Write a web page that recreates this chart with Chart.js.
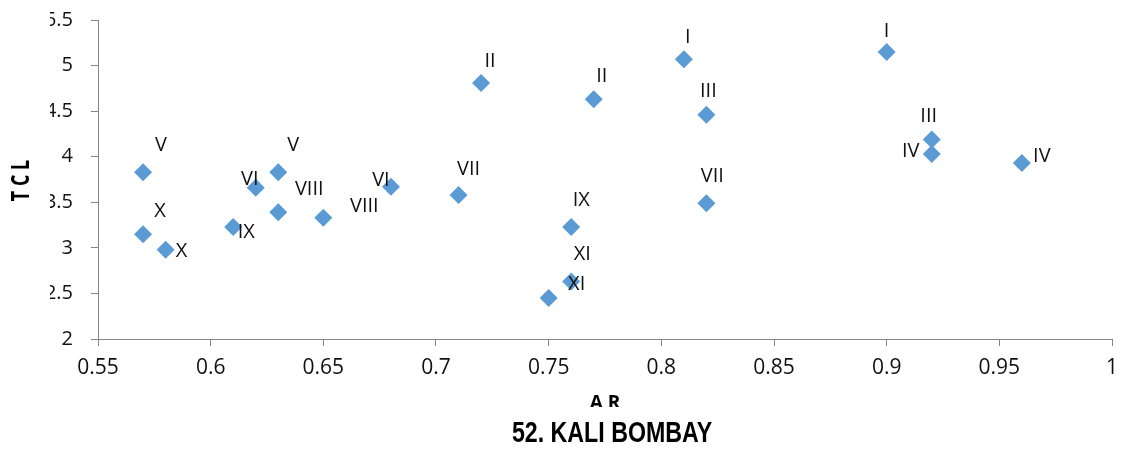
<!DOCTYPE html>
<html>
<head>
<meta charset="utf-8">
<script src="https://cdn.jsdelivr.net/npm/chart.js@4.4.1/dist/chart.umd.min.js"></script>
<style>
  body { margin: 0; background: #fff; }
  #wrap { width: 1128px; height: 452px; }
</style>
</head>
<body>
<div id="wrap"><canvas id="myChart" width="1128" height="452"></canvas></div>
<script>
// A R (x) and T C L (y) values
const arValues  = [0.57, 0.57, 0.58, 0.61, 0.62, 0.63, 0.63, 0.65, 0.68, 0.71, 0.72, 0.75, 0.76, 0.76, 0.77, 0.81, 0.82, 0.82, 0.90, 0.92, 0.92, 0.96];
const tclValues = [3.83, 3.15, 2.98, 3.23, 3.66, 3.83, 3.39, 3.33, 3.67, 3.58, 4.81, 2.45, 3.23, 2.63, 4.63, 5.07, 4.46, 3.49, 5.15, 4.19, 4.03, 3.93];
const pointNames = ['V', 'X', 'X', 'IX', 'VI', 'V', 'VIII', 'VIII', 'VI', 'VII', 'II', 'XI', 'IX', 'XI', 'II', 'I', 'III', 'VII', 'I', 'III', 'IV', 'IV'];

const xMin = 0.55, xMax = 1, xStep = 0.05;
const yMin = 2, yMax = 5.5, yStep = 0.5;

const chartTitle = '52. KALI BOMBAY';
const xTitle = 'A R';
const yTitle = 'T C L';

// where each roman numeral sits relative to its marker (dx, dy)
const labelOffsets = [
    [18, -27], [17, -23], [16, 2], [13, 5], [-6, -8], [15, -27], [31, -23], [41, -11],
    [-10, -6], [10, -26], [9, -22], [28, -14], [10, -27], [11, -27], [8, -23], [4, -22],
    [2, -23], [6, -27], [0, -21], [-3, -23], [-21, -3], [20, -7]
];

const axisGray = '#868686';

// roman numeral labels next to the diamonds
const pointLabelPlugin = {
    id: 'pointLabels',
    afterDatasetsDraw(chart) {
        const ctx = chart.ctx;
        const meta = chart.getDatasetMeta(0);
        ctx.save();
        ctx.font = '20px "Open Sans"';
        ctx.fillStyle = '#111';
        ctx.textAlign = 'center';
        ctx.textBaseline = 'middle';
        meta.data.forEach((pt, i) => {
            const off = labelOffsets[i];
            ctx.fillText(pointNames[i], pt.x + off[0], pt.y + off[1]);
        });
        ctx.restore();
    }
};

// the original image is cropped a bit: y tick labels cut on the left, x title cut below
// titles are drawn here too, squeezed like the original narrow fonts
const cropPlugin = {
    id: 'cropAndTitle',
    afterDraw(chart) {
        const ctx = chart.ctx;
        const area = chart.chartArea;
        ctx.save();
        ctx.fillStyle = '#fff';
        ctx.fillRect(34, 0, 16, 360);

        ctx.fillStyle = '#000';
        ctx.textAlign = 'center';
        ctx.textBaseline = 'middle';

        // y title, rotated
        ctx.save();
        ctx.translate(22, (area.top + area.bottom) / 2 + 1);
        ctx.rotate(-Math.PI / 2);
        ctx.scale(0.72, 1);
        ctx.font = 'bold 25px "Open Sans"';
        ctx.fillText(yTitle, 0, 0);
        ctx.restore();

        // x title, only its upper part shows
        ctx.save();
        ctx.beginPath();
        ctx.rect(0, 380, 1128, 27);
        ctx.clip();
        ctx.font = 'bold 19px "Open Sans"';
        ctx.fillText(xTitle, (area.left + area.right) / 2, 404);
        ctx.restore();

        // chart title
        ctx.save();
        ctx.translate(612, 434);
        ctx.scale(0.8, 1);
        ctx.font = 'bold 29px "Liberation Sans"';
        ctx.fillText(chartTitle, 0, 0);
        ctx.restore();

        ctx.restore();
    }
};

function fmt(v) {
    return String(Number(v.toFixed(2)));
}

const ctx = document.getElementById('myChart').getContext('2d');
const myChart = new Chart(ctx, {
    type: 'scatter',
    data: {
        datasets: [{
            label: 'TCL',
            data: arValues.map((x, i) => ({ x: x, y: tclValues[i] })),
            pointStyle: 'rectRot',
            pointRadius: 9,
            pointHoverRadius: 9,
            backgroundColor: '#5B9BD5',
            borderColor: '#5B9BD5',
            borderWidth: 0
        }]
    },
    options: {
        responsive: false,
        animation: false,
        events: [],
        layout: { padding: { left: 0, right: 16, top: 20, bottom: 0 } },
        plugins: {
            legend: { display: false },
            tooltip: { enabled: false }
        },
        scales: {
            x: {
                type: 'linear',
                min: xMin,
                max: xMax,
                afterFit(scale) {
                    scale.height = 113;
                    scale.paddingLeft = 0;
                    scale.paddingRight = 0;
                },
                afterBuildTicks(scale) {
                    const t = [];
                    for (let v = xMin; v <= xMax + 1e-9; v += xStep) t.push({ value: Number(v.toFixed(2)) });
                    scale.ticks = t;
                },
                grid: { drawOnChartArea: false, drawTicks: true, tickLength: 7, color: axisGray },
                border: { display: true, color: axisGray, width: 1 },
                ticks: { color: '#111', font: { family: 'Open Sans', size: 21 }, padding: 9, callback: fmt }
            },
            y: {
                type: 'linear',
                min: yMin,
                max: yMax,
                afterFit(scale) {
                    scale.width = 98;
                    scale.paddingTop = 0;
                    scale.paddingBottom = 0;
                },
                afterBuildTicks(scale) {
                    const t = [];
                    for (let v = yMin; v <= yMax + 1e-9; v += yStep) t.push({ value: Number(v.toFixed(2)) });
                    scale.ticks = t;
                },
                grid: { drawOnChartArea: false, drawTicks: true, tickLength: 7, color: axisGray },
                border: { display: true, color: axisGray, width: 1 },
                ticks: { color: '#111', font: { family: 'Open Sans', size: 20 }, padding: 18, callback: fmt }
            }
        }
    },
    plugins: [pointLabelPlugin, cropPlugin]
});
</script>
</body>
</html>
